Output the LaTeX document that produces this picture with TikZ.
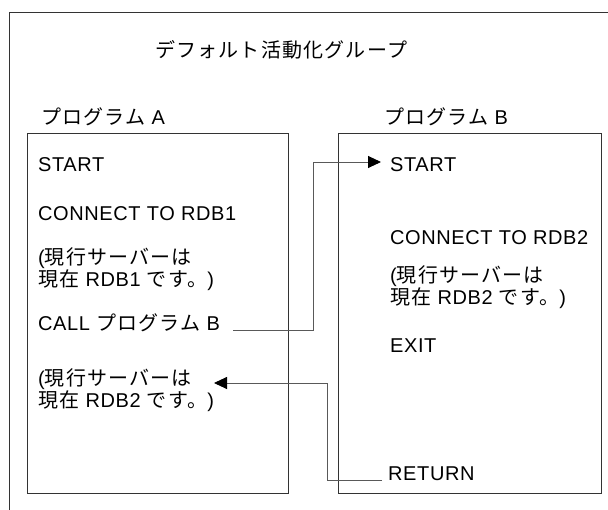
\documentclass[tikz,border=0pt]{standalone}
\usepackage{fontspec}
\setmainfont{Liberation Sans}[LetterSpace=3]
\newfontfamily\jpfont{Noto Sans CJK JP}[LetterSpace=6]
\newcommand{\jp}[1]{{\jpfont #1}}
\usetikzlibrary{arrows.meta}

\begin{document}
\begin{tikzpicture}[x=1bp,y=-1bp,
  boxline/.style={draw=black!80,line width=0.9bp},
  progbox/.style={boxline,rectangle,inner sep=0pt},
  txt/.style={anchor=west,inner sep=0pt,align=left,font=\fontsize{20bp}{19bp}\selectfont},
  titletxt/.style={inner sep=0pt,font=\fontsize{20bp}{20bp}\selectfont},
  conn/.style={draw=black!65,line width=0.9bp},
  headarrow/.style={-{Triangle[length=13bp,width=12bp,color=black]}}]
\useasboundingbox (0,0) rectangle (608,510);
% outer group frame
\draw[boxline] (608,12) -- (9,12) -- (9,510);
\node[titletxt] (title) at (281,50) {\jp{デフォルト活動化グループ}};
\node[txt] (progA) at (41,117) {\jp{プログラム} A};
\node[txt] (progB) at (384,117) {\jp{プログラム} B};
\node[progbox,minimum width=261bp,minimum height=360bp] (boxA) at (157.5,313) {};
\node[progbox,minimum width=263bp,minimum height=360bp] (boxB) at (469.5,313) {};
% program A
\node[txt] (aStart) at (38,165) {START};
\node[txt] (aConn) at (38,214) {CONNECT TO RDB1};
\node[txt] (aNote1) at (38,269.5) {(\jp{現行サーバーは}\\\jp{現在} RDB1 \jp{です。})};
\node[txt] (aCall) at (38,323) {CALL \jp{プログラム} B};
\node[txt] (aNote2) at (38,390) {(\jp{現行サーバーは}\\\jp{現在} RDB2 \jp{です。})};
% program B
\node[txt] (bStart) at (390,165) {START};
\node[txt] (bConn) at (390,238) {CONNECT TO RDB2};
\node[txt] (bNote) at (390,287) {(\jp{現行サーバーは}\\\jp{現在} RDB2 \jp{です。})};
\node[txt] (bExit) at (390,346) {EXIT};
\node[txt] (bRet) at (388,474) {RETURN};
% call and return
\coordinate (callX) at (313,0);
\coordinate (retX) at (327,0);
\coordinate (startTip) at ([xshift=-9bp,yshift=3bp]bStart.west);
\coordinate (retTip) at (214,383);
\draw[conn,headarrow] ([xshift=13bp,yshift=-7bp]aCall.east) -| (callX |- startTip) -- (startTip);
\draw[conn,headarrow] ([xshift=-6bp,yshift=-6bp]bRet.west) -| (retX |- retTip) -- (retTip);
\end{tikzpicture}
\end{document}
